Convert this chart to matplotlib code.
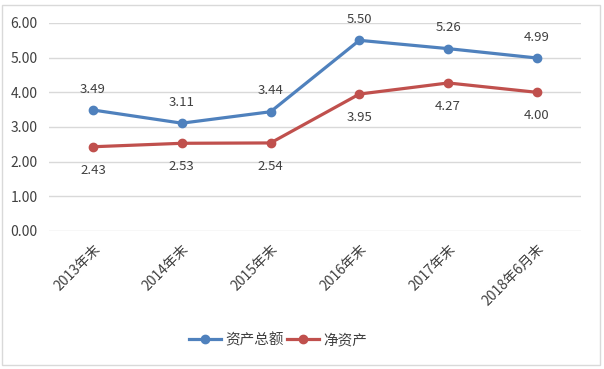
import matplotlib
matplotlib.use("Agg")
import matplotlib.pyplot as plt
from matplotlib.patches import Rectangle

plt.rcParams['font.family'] = ['Noto Sans CJK SC', 'DejaVu Sans']

# data
categories = ["2013年末", "2014年末", "2015年末", "2016年末", "2017年末", "2018年6月末"]
total_assets = [3.49, 3.11, 3.44, 5.50, 5.26, 4.99]
net_assets = [2.43, 2.53, 2.54, 3.95, 4.27, 4.00]
series_names = ["资产总额", "净资产"]

blue = "#4F81BD"
red = "#C0504D"
txt = "#404040"

fig = plt.figure(figsize=(6.04, 3.69), dpi=100)
ax = fig.add_axes([0.0805, 0.374, 0.882, 0.5637])

x = list(range(len(categories)))
ax.plot(x, total_assets, color=blue, lw=2.3, marker="o", ms=6, label=series_names[0])
ax.plot(x, net_assets, color=red, lw=2.3, marker="o", ms=6, label=series_names[1])

for xi, v in zip(x, total_assets):
    ax.annotate(f"{v:.2f}", (xi, v), xytext=(0, 15), textcoords="offset points",
                ha="center", va="center", fontsize=9.5, color=txt)
for xi, v in zip(x, net_assets):
    ax.annotate(f"{v:.2f}", (xi, v), xytext=(0, -17), textcoords="offset points",
                ha="center", va="center", fontsize=9.5, color=txt)

ax.set_xlim(-0.5, len(categories) - 0.5)
ax.set_ylim(0, 6)
ax.set_yticks([0, 1, 2, 3, 4, 5, 6])
ax.set_yticklabels([f"{t:.2f}" for t in range(7)])
ax.set_xticks(x)
ax.set_xticklabels(categories, rotation=45, ha="right", rotation_mode="anchor")
ax.tick_params(axis="both", length=0, labelsize=10, colors=txt)
ax.tick_params(axis="y", pad=8)
ax.tick_params(axis="x", pad=8)
ax.grid(axis="y", color="#D9D9D9", lw=1)
ax.set_axisbelow(True)
for s in ax.spines.values():
    s.set_visible(False)

fig.legend(loc="center", bbox_to_anchor=(0.46, 0.078), ncol=2, frameon=False,
           fontsize=10.5, labelcolor=txt, handlelength=2.2, columnspacing=0.2,
           handletextpad=0.3)

fig.patches.append(Rectangle((0.004, 0.012), 0.99, 0.975, transform=fig.transFigure,
                             fill=False, edgecolor="#D9D9D9", lw=1))

fig.savefig("out.png", dpi=100)
